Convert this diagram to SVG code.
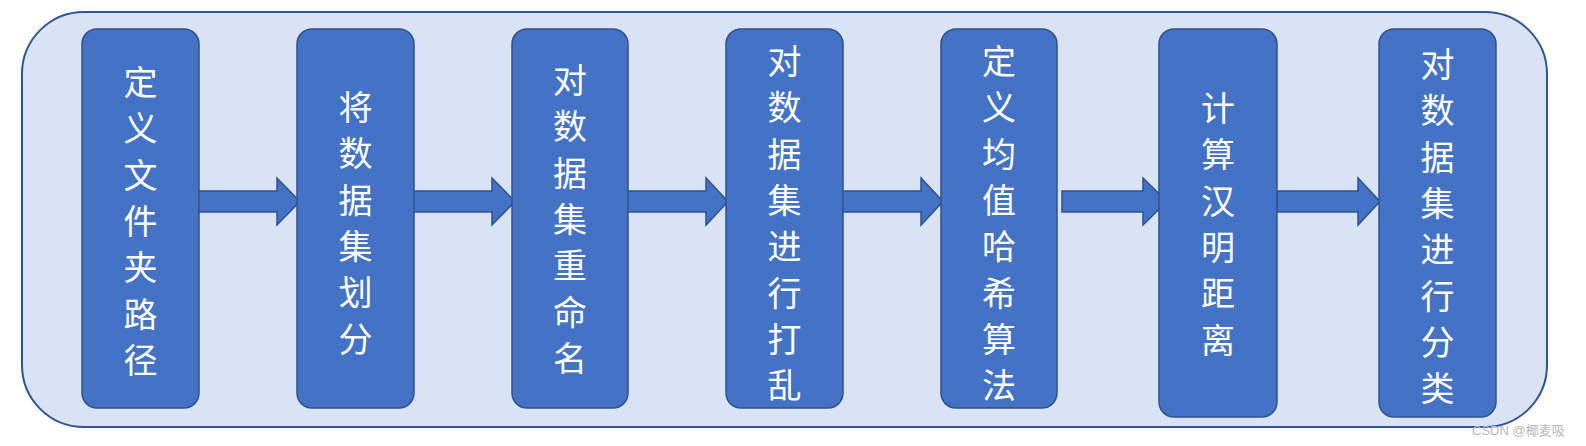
<svg xmlns="http://www.w3.org/2000/svg" width="1586" height="446" viewBox="0 0 1586 446">
<style>
.bg{fill:#dae3f3;stroke:#2f5597;stroke-width:2}
.node{fill:#4472c4;stroke:#2f528f;stroke-width:1.5}
.arrow{fill:#4472c4;stroke:#2f528f;stroke-width:1.5}
.lbl{fill:#ffffff;font-family:"Liberation Sans","Noto Sans CJK SC",sans-serif;font-size:34px;text-anchor:middle;dominant-baseline:central}
.wm{fill:#b8b8b8;font-family:"Liberation Sans","Noto Sans CJK SC",sans-serif;font-size:13px}
</style>
<rect width="1586" height="446" fill="#ffffff"/>
<rect class="bg" x="22" y="12" width="1525" height="415" rx="62" ry="62"/>
<g id="connectors">
<path class="arrow" d="M197,191 H277 V178 L300,201.5 L277,225 V212 H197 Z"/>
<path class="arrow" d="M410,191 H492 V178 L515,201.5 L492,225 V212 H410 Z"/>
<path class="arrow" d="M624,191 H706 V178 L728,201.5 L706,225 V212 H624 Z"/>
<path class="arrow" d="M839,191 H921 V178 L943,201.5 L921,225 V212 H839 Z"/>
<path class="arrow" d="M1062,191 H1143 V178 L1167,201.5 L1143,225 V212 H1062 Z"/>
<path class="arrow" d="M1277,191 H1358 V178 L1380,201.5 L1358,225 V212 H1277 Z"/>
</g>
<g id="n1">
<rect class="node" x="82" y="29" width="117" height="379" rx="15"/>
<text class="lbl" x="140.5" y="83"><tspan x="140.5" y="83">定</tspan><tspan x="140.5" y="129.3">义</tspan><tspan x="140.5" y="175.6">文</tspan><tspan x="140.5" y="221.9">件</tspan><tspan x="140.5" y="268.2">夹</tspan><tspan x="140.5" y="314.5">路</tspan><tspan x="140.5" y="360.8">径</tspan></text>
</g>
<g id="n2">
<rect class="node" x="297" y="29" width="117" height="379" rx="15"/>
<text class="lbl" x="355.5" y="108"><tspan x="355.5" y="108">将</tspan><tspan x="355.5" y="154.3">数</tspan><tspan x="355.5" y="200.6">据</tspan><tspan x="355.5" y="246.9">集</tspan><tspan x="355.5" y="293.2">划</tspan><tspan x="355.5" y="339.5">分</tspan></text>
</g>
<g id="n3">
<rect class="node" x="512" y="29" width="116" height="379" rx="15"/>
<text class="lbl" x="570" y="81"><tspan x="570" y="81">对</tspan><tspan x="570" y="127.3">数</tspan><tspan x="570" y="173.6">据</tspan><tspan x="570" y="219.9">集</tspan><tspan x="570" y="266.2">重</tspan><tspan x="570" y="312.5">命</tspan><tspan x="570" y="358.8">名</tspan></text>
</g>
<g id="n4">
<rect class="node" x="726" y="29" width="117" height="379" rx="15"/>
<text class="lbl" x="784.5" y="62"><tspan x="784.5" y="62">对</tspan><tspan x="784.5" y="108.3">数</tspan><tspan x="784.5" y="154.6">据</tspan><tspan x="784.5" y="200.9">集</tspan><tspan x="784.5" y="247.2">进</tspan><tspan x="784.5" y="293.5">行</tspan><tspan x="784.5" y="339.8">打</tspan><tspan x="784.5" y="386.1">乱</tspan></text>
</g>
<g id="n5">
<rect class="node" x="941" y="29" width="116" height="379" rx="15"/>
<text class="lbl" x="999" y="62"><tspan x="999" y="62">定</tspan><tspan x="999" y="108.3">义</tspan><tspan x="999" y="154.6">均</tspan><tspan x="999" y="200.9">值</tspan><tspan x="999" y="247.2">哈</tspan><tspan x="999" y="293.5">希</tspan><tspan x="999" y="339.8">算</tspan><tspan x="999" y="386.1">法</tspan></text>
</g>
<g id="n6">
<rect class="node" x="1159" y="29" width="118" height="388" rx="15"/>
<text class="lbl" x="1218" y="109"><tspan x="1218" y="109">计</tspan><tspan x="1218" y="155.3">算</tspan><tspan x="1218" y="201.6">汉</tspan><tspan x="1218" y="247.9">明</tspan><tspan x="1218" y="294.2">距</tspan><tspan x="1218" y="340.5">离</tspan></text>
</g>
<g id="n7">
<rect class="node" x="1379" y="29" width="117" height="388" rx="15"/>
<text class="lbl" x="1437.5" y="65"><tspan x="1437.5" y="65">对</tspan><tspan x="1437.5" y="111.3">数</tspan><tspan x="1437.5" y="157.6">据</tspan><tspan x="1437.5" y="203.9">集</tspan><tspan x="1437.5" y="250.2">进</tspan><tspan x="1437.5" y="296.5">行</tspan><tspan x="1437.5" y="342.8">分</tspan><tspan x="1437.5" y="389.1">类</tspan></text>
</g>
<text class="wm" x="1472" y="435">CSDN @椰麦吸</text>
</svg>
